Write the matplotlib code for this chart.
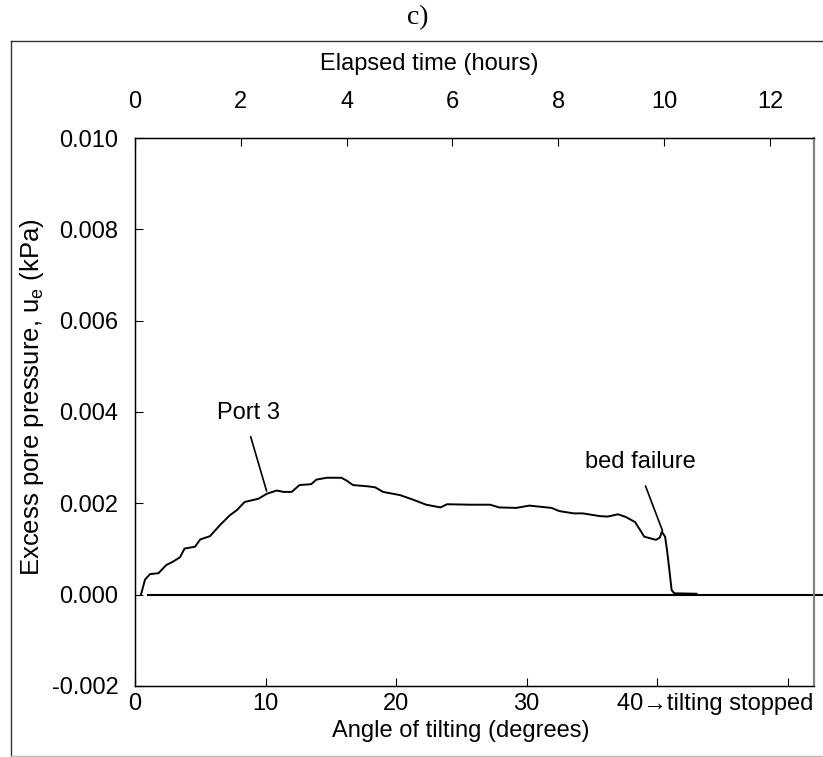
# Excess pore pressure at port 3 during tilting, panel c).
import matplotlib
matplotlib.use("Agg")
import matplotlib.pyplot as plt
from matplotlib.lines import Line2D
from matplotlib.transforms import ScaledTranslation

plt.rcParams['font.family'] = ['Liberation Sans', 'DejaVu Sans']
plt.rcParams['mathtext.fontset'] = 'custom'
plt.rcParams['mathtext.rm'] = 'Liberation Sans'

# Port 3 trace (angle in degrees, pressure in kPa)
ANGLE = [0.46, 0.77, 1.15, 1.8, 2.4, 2.9, 3.45, 3.8, 4.6, 5.0,
         5.74, 6.5, 7.27, 7.8, 8.4, 9.45, 10.1, 10.85, 11.4, 12.0,
         12.6, 13.5, 13.9, 14.7, 15.8, 16.2, 16.7, 17.9, 18.4, 19.0,
         20.3, 21.3, 22.3, 23.4, 23.9, 25.7, 27.2, 27.9, 29.2, 30.2,
         31.9, 32.5, 33.6, 34.3, 35.6, 36.2, 37.0, 37.6, 38.3, 38.7,
         39.0, 39.9, 40.2, 40.35, 40.6, 40.75, 40.9, 41.1, 41.3, 43.0]
PORE_PRESSURE = [0.0, 0.33, 0.45, 0.47, 0.65, 0.72, 0.82, 1.01, 1.05, 1.21,
                 1.28, 1.52, 1.74, 1.85, 2.03, 2.10, 2.21, 2.28, 2.25, 2.25,
                 2.40, 2.42, 2.52, 2.56, 2.56, 2.50, 2.40, 2.37, 2.35, 2.25,
                 2.18, 2.08, 1.97, 1.91, 1.98, 1.97, 1.97, 1.91, 1.90, 1.95,
                 1.90, 1.83, 1.78, 1.78, 1.72, 1.71, 1.76, 1.70, 1.59, 1.41,
                 1.27, 1.20, 1.25, 1.38, 1.27, 0.97, 0.61, 0.10, 0.03, 0.02]
PORE_PRESSURE = [v * 1e-3 for v in PORE_PRESSURE]

BASELINE_ANGLE = [1.0, 52.7]
BASELINE_VALUE = [0.0, 0.0]

ANGLE_TICKS = [0, 10, 20, 30, 40, 50]
ANGLE_LABELS = ['0', '10', '20', '30', '40\u2192tilting stopped', '']
HOUR_TICKS = [0, 2, 4, 6, 8, 10, 12]
PRESSURE_TICKS = [-0.002, 0.000, 0.002, 0.004, 0.006, 0.008, 0.010]

FS = 17

fig = plt.figure(figsize=(8.23, 7.57), dpi=100)
ax = fig.add_axes([0.1640, 0.0938, 0.8250, 0.7239])

ax.plot(ANGLE, PORE_PRESSURE, color='black', lw=1.4)
ax.plot(BASELINE_ANGLE, BASELINE_VALUE, color='black', lw=1.5, clip_on=False)

ax.set_xlim(0, 52)
ax.set_ylim(-0.002, 0.010)
ax.set_xticks(ANGLE_TICKS)
ax.set_xticklabels(ANGLE_LABELS)
ax.set_yticks(PRESSURE_TICKS)
ax.set_yticklabels(['%.3f' % t for t in PRESSURE_TICKS])
ax.tick_params(axis='x', direction='in', length=6, width=0.8, pad=5, labelsize=FS)
ax.tick_params(axis='y', direction='in', length=6, width=0.8, pad=12, labelsize=FS)

# the 40 label carries the note, shift it so "40" sits near its tick
lab40 = ax.get_xticklabels()[4]
lab40.set_horizontalalignment('left')
lab40.set_transform(lab40.get_transform() + ScaledTranslation(-40 / 100, 0, fig.dpi_scale_trans))

ax.set_xlabel('Angle of tilting (degrees)', fontsize=FS)
ax.xaxis.set_label_coords(0.48, -0.062)
ax.set_ylabel(r'Excess pore pressure, u$_{\mathregular{e}}$ (kPa)', fontsize=18.5)
ax.yaxis.set_label_coords(-0.131, 0.527)

for side in ['left', 'bottom', 'top']:
    ax.spines[side].set_linewidth(1.0)
ax.spines['right'].set_color('#808080')
ax.spines['right'].set_linewidth(1.5)

# elapsed time axis on top
top = ax.twiny()
top.set_xlim(0, 12.83)
top.set_xticks(HOUR_TICKS)
top.tick_params(axis='x', direction='in', length=6, width=0.8, pad=18, labelsize=FS)
top.set_xlabel('Elapsed time (hours)', fontsize=FS)
top.xaxis.set_label_coords(0.434, 1.125)
top.spines['right'].set_color('#808080')
top.spines['right'].set_linewidth(1.5)

ax.text(8.73, 0.00398, 'Port 3', fontsize=FS, ha='center', va='center')
ax.annotate('', xy=(10.08, 0.00227), xytext=(8.86, 0.00346),
            arrowprops=dict(arrowstyle='-', lw=1.2, color='black', shrinkA=0, shrinkB=0))
ax.text(38.67, 0.00291, 'bed failure', fontsize=FS, ha='center', va='center')
ax.annotate('', xy=(40.4, 0.0014), xytext=(39.1, 0.00238),
            arrowprops=dict(arrowstyle='-', lw=1.2, color='black', shrinkA=0, shrinkB=0))

fig.text(0.508, 1 - 18 / 757, 'c)', family='Liberation Serif', fontsize=20, ha='center', va='center')

# outer frame of the panel
x0, x1 = 11 / 823, 1.0
y0, y1 = 1 / 757, 1 - 41 / 757
fig.add_artist(Line2D([x0, x1], [y1, y1], color='#333333', lw=1.0, transform=fig.transFigure))
fig.add_artist(Line2D([x0, x0], [y0, y1], color='#333333', lw=1.0, transform=fig.transFigure))
fig.add_artist(Line2D([x0, x1], [y0, y0], color='#bbbbbb', lw=1.0, transform=fig.transFigure))

fig.savefig('out.png', dpi=100)
